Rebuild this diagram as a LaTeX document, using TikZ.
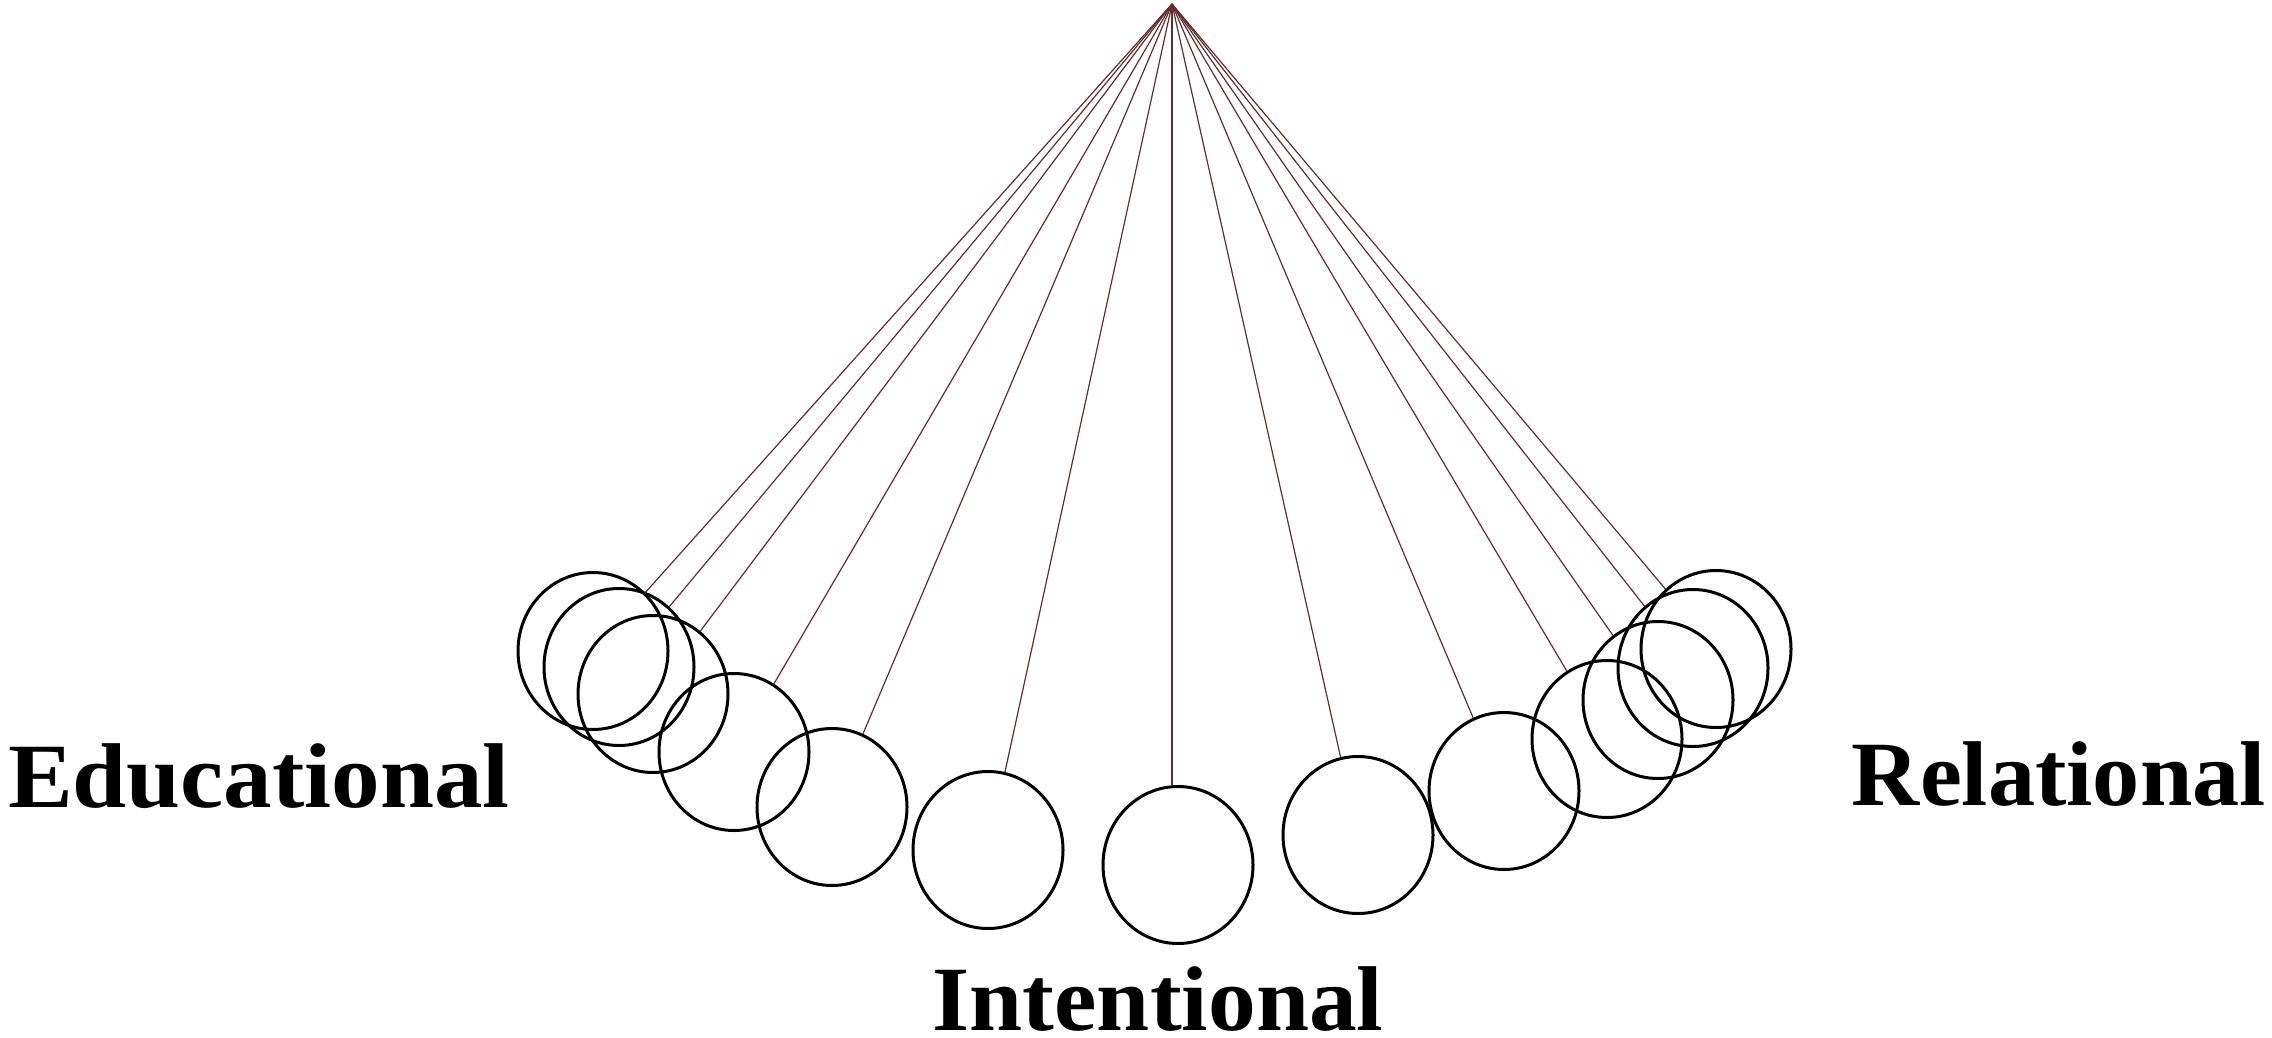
\documentclass[tikz,border=0pt]{standalone}
\usepackage{fontspec}
\setmainfont{Liberation Serif}
\usetikzlibrary{shapes.geometric}
\definecolor{stringcol}{RGB}{100,45,45}
\tikzset{
  ball/.style={draw=black, line width=3pt, ellipse, minimum width=150pt, minimum height=157pt, inner sep=0pt},
  thread/.style={draw=stringcol, line width=1.2pt},
  label/.style={font=\fontsize{92}{100}\selectfont\bfseries, inner sep=0pt}
}
\begin{document}
\begin{tikzpicture}[x=1pt,y=-1pt]
\useasboundingbox (0,0) rectangle (2272,1038);
\coordinate (apex) at (1172,4);
% left swing
\node[ball] (e1) at (593,651) {};
\node[ball] (e2) at (619,667) {};
\node[ball] (e3) at (653,694) {};
\node[ball] (e4) at (734,752) {};
\node[ball] (e5) at (832,807) {};
\node[ball] (e6) at (988,850) {};
% centre
\node[ball] (c) at (1178,865) {};
% right swing
\node[ball] (r6) at (1358,835) {};
\node[ball] (r5) at (1504,791) {};
\node[ball] (r4) at (1607,739) {};
\node[ball] (r3) at (1658,700) {};
\node[ball] (r2) at (1693,668) {};
\node[ball] (r1) at (1716,649) {};
\foreach \b in {e1,e2,e3,e4,e5,e6,r1,r2,r3,r4,r5,r6}
  \draw[thread] (apex) -- (\b);
\draw[thread] (apex) -- (c.north -| apex);
\node[label, anchor=base west] (edu) at (8,807) {\scalebox{1.055}[1]{Educational}};
\node[label, anchor=base east] (rel) at (2266,805) {\scalebox{1.025}[1]{Relational}};
\node[label, anchor=base] (int) at (1158,1030) {\scalebox{1.037}[1]{Intentional}};
\end{tikzpicture}
\end{document}
